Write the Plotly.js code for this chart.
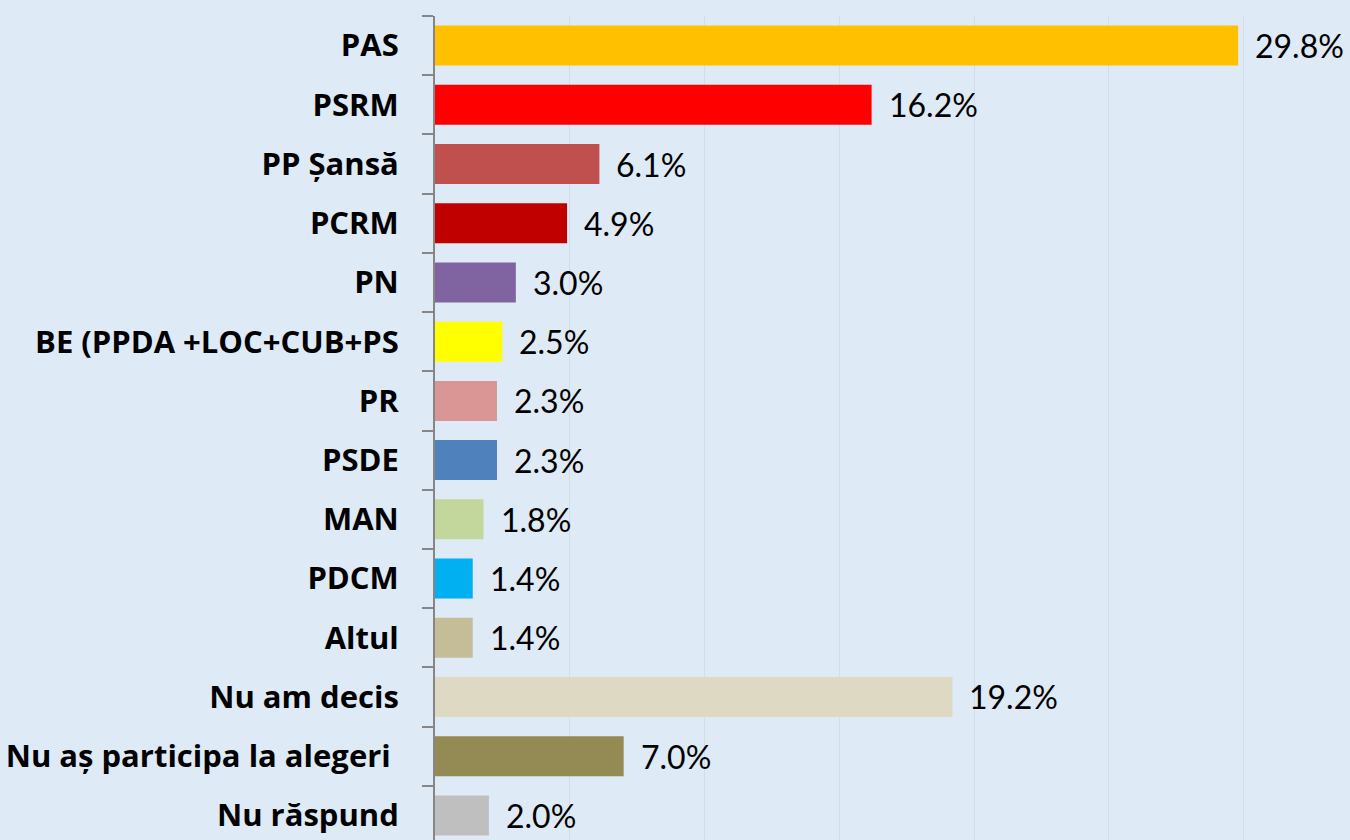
<!DOCTYPE html>
<html>
<head>
<meta charset="utf-8">
<script src="https://cdn.plot.ly/plotly-3.0.1.min.js"></script>
<style>
html,body{margin:0;padding:0;overflow:hidden;background:#DEEAF6;}
#chart{width:1350px;height:845px;}
</style>
</head>
<body>
<div id="chart"></div>
<script>
const categories = ["PAS","PSRM","PP Șansă","PCRM","PN","BE (PPDA +LOC+CUB+PS","PR","PSDE","MAN","PDCM","Altul","Nu am decis","Nu aș participa la alegeri\u00A0","Nu răspund"];
const values = [29.8,16.2,6.1,4.9,3.0,2.5,2.3,2.3,1.8,1.4,1.4,19.2,7.0,2.0];
const valueLabels = ["29.8%","16.2%","6.1%","4.9%","3.0%","2.5%","2.3%","2.3%","1.8%","1.4%","1.4%","19.2%","7.0%","2.0%"];
const barColors = ["#FFC000","#FF0000","#C0504D","#C00000","#8064A2","#FFFF00","#D99694","#4F81BD","#C3D69B","#00B0F0","#C4BD97","#DDD9C3","#948A54","#BFBFBF"];

const trace = {
  type: "bar",
  orientation: "h",
  y: categories,
  x: values,
  marker: {color: barColors, line: {width: 0}},
  hoverinfo: "none"
};

const annotations = categories.map((c, i) => ({
  x: values[i], y: c, xref: "x", yref: "y",
  text: valueLabels[i], showarrow: false,
  xanchor: "left", yanchor: "middle", xshift: 15,
  font: {family: "Lato, 'Open Sans', sans-serif", size: 32, color: "#000000"}
}));

const layout = {
  width: 1350, height: 845,
  margin: {l: 435, r: 0, t: 16, b: 0, pad: 0},
  paper_bgcolor: "#DEEAF6",
  plot_bgcolor: "#DEEAF6",
  showlegend: false,
  bargap: 0.325,
  xaxis: {
    range: [0, 33.95], dtick: 5, tick0: 0,
    showgrid: true, gridcolor: "#D3DDE8", gridwidth: 1,
    showticklabels: false, zeroline: false, showline: false, ticks: ""
  },
  yaxis: {
    type: "category", autorange: "reversed",
    showline: true, linecolor: "#868686", linewidth: 2,
    ticks: "outside", tickson: "boundaries", ticklen: 11, tickwidth: 2, tickcolor: "#868686",
    ticklabelstandoff: 28,
    showgrid: false, zeroline: false,
    tickfont: {family: "'Open Sans', sans-serif", size: 31, color: "#000000", weight: "bold"}
  },
  annotations: annotations
};

Plotly.newPlot("chart", [trace], layout, {displayModeBar: false, staticPlot: true});
</script>
</body>
</html>
